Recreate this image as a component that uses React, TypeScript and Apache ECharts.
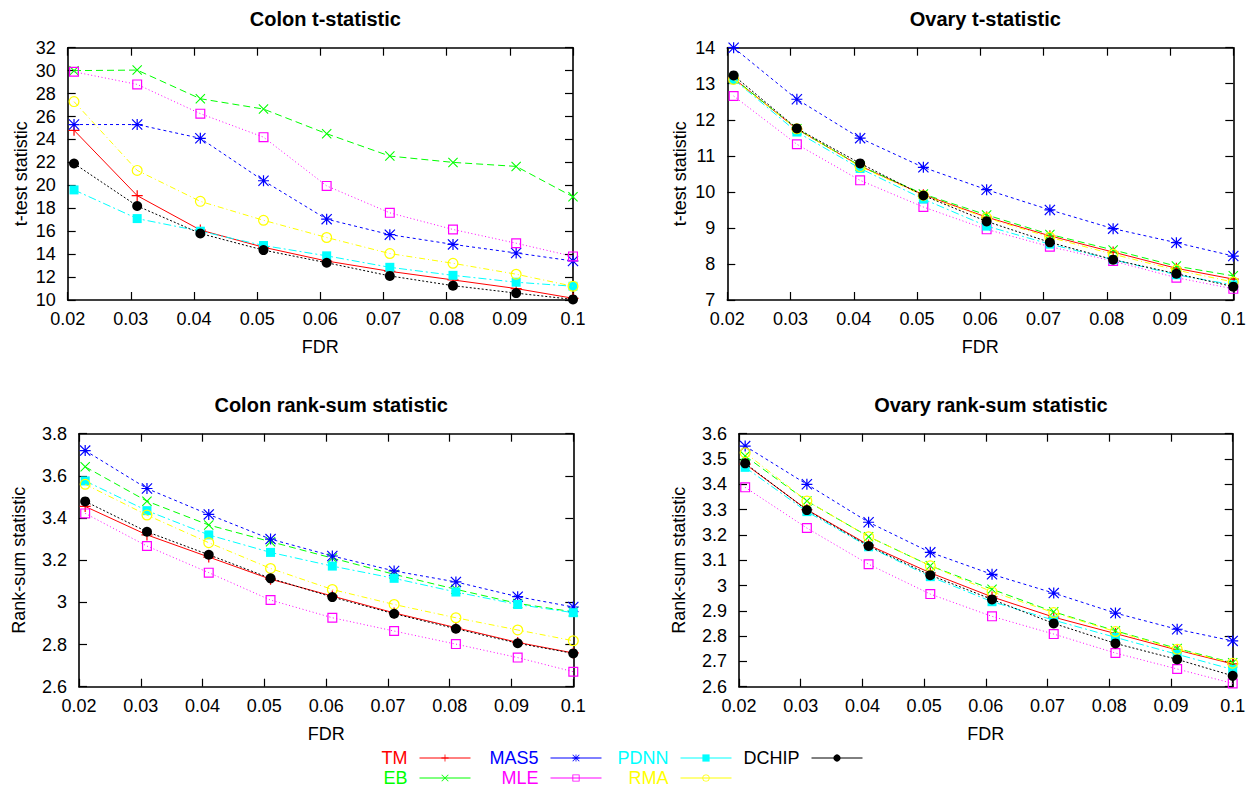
import React, { useEffect, useRef } from "react";
import * as echarts from "echarts";

const FDR = [0.021, 0.031, 0.041, 0.051, 0.061, 0.071, 0.081, 0.091, 0.1];
const METHODS = ["TM", "EB", "MAS5", "MLE", "PDNN", "RMA", "DCHIP"];

// Colon t-statistic
const colonT_TM = [24.8, 19.1, 16.1, 14.6, 13.4, 12.5, 11.75, 11.0, 10.15];
const colonT_EB = [30.0, 30.05, 27.55, 26.65, 24.5, 22.55, 22.0, 21.65, 19.0];
const colonT_MAS5 = [25.3, 25.3, 24.1, 20.4, 17.05, 15.7, 14.85, 14.1, 13.4];
const colonT_MLE = [29.9, 28.8, 26.25, 24.2, 19.95, 17.6, 16.15, 14.95, 13.8];
const colonT_PDNN = [19.6, 17.1, 16.0, 14.75, 13.85, 12.85, 12.15, 11.55, 11.2];
const colonT_RMA = [27.3, 21.3, 18.6, 16.95, 15.45, 14.05, 13.2, 12.25, 11.2];
const colonT_DCHIP = [21.9, 18.2, 15.8, 14.35, 13.25, 12.1, 11.25, 10.6, 10.05];

// Ovary t-statistic
const ovaryT_TM = [13.15, 11.74, 10.72, 9.92, 9.3, 8.78, 8.33, 7.88, 7.58];
const ovaryT_EB = [13.15, 11.75, 10.72, 9.94, 9.36, 8.82, 8.39, 7.94, 7.67];
const ovaryT_MAS5 = [14.0, 12.57, 11.49, 10.68, 10.06, 9.5, 8.98, 8.59, 8.22];
const ovaryT_MLE = [12.66, 11.32, 10.32, 9.58, 8.96, 8.48, 8.08, 7.62, 7.31];
const ovaryT_PDNN = [13.12, 11.66, 10.65, 9.8, 9.05, 8.55, 8.12, 7.7, 7.42];
const ovaryT_RMA = [13.12, 11.75, 10.7, 9.9, 9.28, 8.74, 8.27, 7.83, 7.5];
const ovaryT_DCHIP = [13.23, 11.76, 10.79, 9.9, 9.18, 8.6, 8.12, 7.73, 7.37];

// Colon rank-sum statistic
const colonR_TM = [3.455, 3.32, 3.215, 3.11, 3.03, 2.95, 2.88, 2.81, 2.76];
const colonR_EB = [3.643, 3.48, 3.367, 3.288, 3.21, 3.133, 3.062, 2.995, 2.955];
const colonR_MAS5 = [3.72, 3.54, 3.417, 3.3, 3.22, 3.149, 3.097, 3.027, 2.978];
const colonR_MLE = [3.422, 3.267, 3.141, 3.011, 2.927, 2.864, 2.802, 2.738, 2.671];
const colonR_PDNN = [3.576, 3.435, 3.32, 3.237, 3.172, 3.114, 3.049, 2.99, 2.951];
const colonR_RMA = [3.56, 3.414, 3.283, 3.161, 3.061, 2.99, 2.927, 2.869, 2.818];
const colonR_DCHIP = [3.479, 3.335, 3.226, 3.114, 3.025, 2.946, 2.875, 2.806, 2.758];

// Ovary rank-sum statistic
const ovaryR_TM = [3.48, 3.3, 3.16, 3.05, 2.955, 2.875, 2.81, 2.745, 2.69];
const ovaryR_EB = [3.512, 3.334, 3.193, 3.078, 2.985, 2.896, 2.821, 2.751, 2.695];
const ovaryR_MAS5 = [3.551, 3.4, 3.25, 3.131, 3.044, 2.97, 2.891, 2.827, 2.781];
const ovaryR_MLE = [3.388, 3.227, 3.084, 2.966, 2.878, 2.808, 2.733, 2.67, 2.613];
const ovaryR_PDNN = [3.467, 3.292, 3.153, 3.035, 2.936, 2.863, 2.795, 2.728, 2.668];
const ovaryR_RMA = [3.525, 3.334, 3.193, 3.078, 2.975, 2.893, 2.818, 2.748, 2.693];
const ovaryR_DCHIP = [3.483, 3.298, 3.156, 3.041, 2.945, 2.85, 2.771, 2.708, 2.643];

const PANEL_TITLES = ["Colon t-statistic", "Ovary t-statistic", "Colon rank-sum statistic", "Ovary rank-sum statistic"];
const PANEL_YNAMES = ["t-test statistic", "t-test statistic", "Rank-sum statistic", "Rank-sum statistic"];
const PANEL_YMIN = [10, 7, 2.6, 2.6];
const PANEL_YMAX = [32, 14, 3.8, 3.6];
const PANEL_YINT = [2, 1, 0.2, 0.1];

const PANEL_DATA = [
  [colonT_TM, colonT_EB, colonT_MAS5, colonT_MLE, colonT_PDNN, colonT_RMA, colonT_DCHIP],
  [ovaryT_TM, ovaryT_EB, ovaryT_MAS5, ovaryT_MLE, ovaryT_PDNN, ovaryT_RMA, ovaryT_DCHIP],
  [colonR_TM, colonR_EB, colonR_MAS5, colonR_MLE, colonR_PDNN, colonR_RMA, colonR_DCHIP],
  [ovaryR_TM, ovaryR_EB, ovaryR_MAS5, ovaryR_MLE, ovaryR_PDNN, ovaryR_RMA, ovaryR_DCHIP],
];

const COLORS = ["#ff0000", "#00ff00", "#0000ff", "#ff00ff", "#00ffff", "#ffff00", "#000000"];

const PLUS = "path://M4.45,0L5.55,0L5.55,4.45L10,4.45L10,5.55L5.55,5.55L5.55,10L4.45,10L4.45,5.55L0,5.55L0,4.45L4.45,4.45Z";
const CROSS = "path://M0,0.75L0.75,0L5,4.25L9.25,0L10,0.75L5.75,5L10,9.25L9.25,10L5,5.75L0.75,10L0,9.25L4.25,5Z";
const STAR = PLUS.replace("Z", "Z ") + CROSS.replace("path://", "");
const OPEN_SQ = "path://M0,0L10,0L10,10L0,10Z M1.2,1.2L1.2,8.8L8.8,8.8L8.8,1.2Z";
const OPEN_CIRC = "path://M0,5A5,5,0,1,1,10,5A5,5,0,1,1,0,5Z M1.1,5A3.9,3.9,0,1,0,8.9,5A3.9,3.9,0,1,0,1.1,5Z";

const SYMBOLS = [PLUS, CROSS, STAR, OPEN_SQ, "rect", OPEN_CIRC, "circle"];
const SYMBOL_SIZES = [11, 10, 11, 10, 9, 11, 10];
const LINE_TYPES: any[] = ["solid", [7, 4], [3, 3], [1, 2.5], [8, 3, 2, 3], [6, 3, 1, 3], [2, 2]];

const GRIDS = [
  { left: 67.7, top: 47.7, width: 505.3, height: 252.3 },
  { left: 727.3, top: 47.7, width: 506, height: 252.3 },
  { left: 79, top: 433.7, width: 494.3, height: 253 },
  { left: 739, top: 433.7, width: 493.7, height: 253 },
];
const TITLE_TOPS = [4, 390];
const YNAME_GAPS = [38, 38, 51, 51];

// legend layout: [right edge of sample, top]
const LEGEND_POS = [
  [471, 759], [471, 779], [602, 759], [602, 779], [732, 759], [732, 779], [863, 759],
];

const FONT = "Liberation Sans, Arial, Helvetica, sans-serif";

export default function App() {
  const ref = useRef<HTMLDivElement>(null);
  useEffect(() => {
    if (!ref.current) return;
    const chart = echarts.init(ref.current, undefined, { renderer: "svg" });
    const xAxis: any[] = [];
    const yAxis: any[] = [];
    const series: any[] = [];
    const title: any[] = [];
    const axisLine = { show: true, lineStyle: { color: "#000", width: 1.6 } };
    const axisTick = { show: true, inside: true, length: 8, lineStyle: { color: "#000", width: 1.2 } };
    GRIDS.forEach((g, p) => {
      title.push({
        text: PANEL_TITLES[p],
        left: g.left + g.width / 2,
        top: TITLE_TOPS[p < 2 ? 0 : 1],
        textAlign: "center",
        textStyle: { fontFamily: FONT, fontSize: 20, fontWeight: "bold", color: "#000" },
      });
      xAxis.push({
        type: "value", gridIndex: p, min: 0.02, max: 0.1, interval: 0.01, position: "bottom",
        name: "FDR", nameLocation: "middle", nameGap: 38,
        nameTextStyle: { fontFamily: FONT, fontSize: 18, color: "#000" },
        axisLine, axisTick, splitLine: { show: false },
        axisLabel: { fontFamily: FONT, fontSize: 18, color: "#000", margin: 10 },
      });
      xAxis.push({
        type: "value", gridIndex: p, min: 0.02, max: 0.1, interval: 0.01, position: "top",
        axisLine, axisTick, splitLine: { show: false }, axisLabel: { show: false },
      });
      yAxis.push({
        type: "value", gridIndex: p, min: PANEL_YMIN[p], max: PANEL_YMAX[p], interval: PANEL_YINT[p],
        position: "left", name: PANEL_YNAMES[p], nameLocation: "middle", nameGap: YNAME_GAPS[p],
        nameTextStyle: { fontFamily: FONT, fontSize: 18, color: "#000" },
        axisLine, axisTick, splitLine: { show: false },
        axisLabel: { fontFamily: FONT, fontSize: 18, color: "#000", margin: 12 },
      });
      yAxis.push({
        type: "value", gridIndex: p, min: PANEL_YMIN[p], max: PANEL_YMAX[p], interval: PANEL_YINT[p],
        position: "right", axisLine, axisTick, splitLine: { show: false }, axisLabel: { show: false },
      });
      METHODS.forEach((m, k) => {
        series.push({
          type: "line",
          name: m,
          xAxisIndex: p * 2,
          yAxisIndex: p * 2,
          data: FDR.map((x, i) => [x, PANEL_DATA[p][k][i]]),
          symbol: SYMBOLS[k],
          symbolSize: SYMBOL_SIZES[k],
          showAllSymbol: true,
          z: 2 + k,
          lineStyle: { color: COLORS[k], width: 1, type: LINE_TYPES[k] },
          itemStyle: { color: COLORS[k], borderWidth: 0 },
          emphasis: { disabled: true },
        });
      });
    });
    const legend = METHODS.map((m, k) => ({
      data: [m],
      right: 1255 - LEGEND_POS[k][0],
      top: LEGEND_POS[k][1] - 10,
      align: "right",
      padding: 0,
      itemWidth: 51,
      itemHeight: 9,
      selectedMode: false,
      lineStyle: { type: "solid", width: 1 },
      textStyle: { fontFamily: FONT, fontSize: 18, color: COLORS[k], padding: [0, 7, 0, 0] },
    }));
    chart.setOption({
      animation: false,
      backgroundColor: "#fff",
      title,
      grid: GRIDS.map((g) => ({ ...g, containLabel: false })),
      xAxis,
      yAxis,
      legend,
      series,
    });
    return () => chart.dispose();
  }, []);
  return (
    <div
      ref={ref}
      style={{ position: "fixed", left: 0, top: 0, width: 1255, height: 789, background: "#fff" }}
    />
  );
}
